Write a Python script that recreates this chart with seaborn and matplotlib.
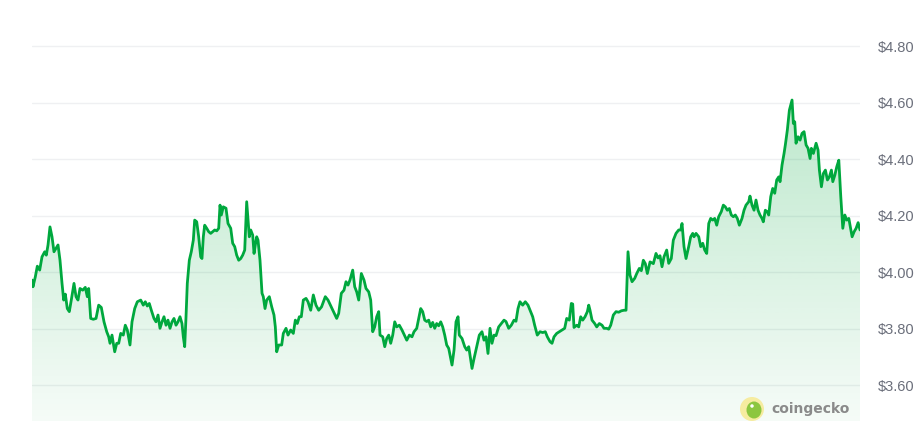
import numpy as np
import pandas as pd
import seaborn as sns
import matplotlib
matplotlib.use("Agg")
import matplotlib.pyplot as plt
from matplotlib.patches import Ellipse
from matplotlib.colors import to_rgb

# ---- data (hours since start, price in USD) ----
hours = [0.00, 0.20, 0.67, 1.08, 1.56, 2.03, 2.58, 2.90, 3.25, 3.65, 4.06, 4.46, 4.87, 5.28, 5.68,
         6.09, 6.43, 6.76, 7.16, 7.57, 7.97, 8.52, 8.93, 9.33, 9.74, 10.29, 10.81, 11.22, 11.50, 11.91,
         12.44, 12.99, 13.53, 14.06, 14.61, 15.16, 15.56, 15.83, 16.23, 16.78, 17.19, 17.59, 18.00, 18.52,
         18.93, 19.34, 19.88, 20.29, 20.84, 21.37, 22.06, 22.58, 22.99, 23.39, 23.80, 24.21, 24.75, 25.16,
         25.57, 25.97, 26.38, 26.78, 27.19, 27.59, 28.00, 28.41, 28.81, 29.22, 29.62, 30.03, 30.43, 30.70,
         30.98, 31.25, 31.51, 31.92, 32.32, 32.73, 33.01, 33.42, 33.82, 34.23, 34.49, 34.76, 35.04, 35.45,
         35.85, 36.26, 36.67, 37.07, 37.48, 37.88, 38.15, 38.41, 38.82, 39.36, 39.77, 40.32, 40.72, 41.13,
         41.53, 41.94, 42.35, 42.75, 43.16, 43.56, 44.09, 44.38, 44.78, 45.05, 45.31, 45.59, 45.86, 46.26,
         46.67, 46.93, 47.28, 47.62, 48.15, 48.64, 49.10, 49.37, 49.65, 50.06, 50.66, 50.99, 51.54, 51.94,
         52.49, 53.02, 53.43, 53.83, 54.24, 54.64, 55.05, 55.60, 56.00, 56.55, 57.08, 57.62, 58.17, 58.75,
         59.51, 60.06, 60.87, 61.82, 62.23, 62.76, 63.30, 63.71, 64.12, 64.52, 65.07, 65.48, 65.88, 66.29,
         66.82, 67.36, 67.77, 68.32, 68.72, 69.13, 69.53, 69.94, 70.35, 70.61, 71.16, 71.57, 71.97, 72.38,
         72.78, 73.19, 73.60, 74.00, 74.53, 75.07, 76.04, 76.57, 77.10, 77.51, 78.06, 78.87, 79.27, 79.68,
         80.09, 80.49, 80.90, 81.30, 81.71, 82.11, 82.52, 82.93, 83.33, 83.74, 84.14, 84.55, 84.96, 85.22,
         85.63, 86.03, 86.44, 86.70, 87.25, 87.80, 88.20, 88.61, 89.01, 89.28, 89.69, 90.23, 90.76, 91.30,
         91.71, 92.12, 92.52, 92.93, 93.33, 93.74, 94.15, 94.69, 95.22, 95.77, 96.17, 96.72, 97.25, 97.80,
         98.20, 98.61, 99.01, 99.56, 100.09, 100.64, 101.18, 101.59, 101.99, 102.52, 103.07, 103.62, 104.15,
         104.56, 105.10, 105.51, 105.92, 106.46, 106.99, 107.54, 108.08, 108.49, 109.02, 109.43, 109.71,
         109.97, 110.52, 110.93, 111.33, 111.74, 112.21, 112.68, 112.96, 113.22, 113.63, 114.17, 114.58,
         115.11, 115.66, 116.06, 116.61, 117.01, 117.42, 117.95, 118.50, 119.04, 119.58, 120.12, 120.53,
         120.93, 121.34, 121.75, 122.29, 122.70, 123.22, 123.63, 124.04, 124.44, 124.85, 125.40, 126.07,
         126.61, 127.02, 127.42, 127.83, 128.23, 128.78, 129.19, 129.71, 130.12, 130.67, 131.21, 131.62,
         131.89, 132.29, 132.70, 133.24, 133.65, 134.06, 134.32, 134.73, 135.28, 135.68, 136.09, 136.49,
         136.90, 137.31, 137.71, 138.12, 138.52, 138.93, 139.33, 139.86, 140.27, 140.67, 141.08, 141.49,
         141.89, 142.30, 142.70, 143.11, 143.52, 144.06, 144.47, 144.87, 145.42, 145.68, 146.09, 146.50,
         146.90, 147.31, 147.71, 148.12, 148.38, 148.79, 149.20, 149.48, 149.89, 150.29, 150.70, 151.10,
         151.51, 151.78, 152.18, 152.59, 152.85, 153.26, 153.67, 153.95, 154.21, 154.48, 154.76, 155.02,
         155.43, 155.84, 156.24, 156.65, 157.06, 157.46, 157.87, 158.13, 158.54, 159.09, 159.49, 159.76,
         160.17, 160.57, 160.98, 161.39, 161.79, 162.20, 162.48, 162.89, 163.29, 163.70, 164.10, 164.51,
         164.92, 165.32, 165.73, 166.14, 166.40, 166.81, 167.21, 167.62, 168.00]

prices = [3.972, 3.948, 3.983, 4.021, 4.007, 4.054, 4.072, 4.060, 4.096, 4.160, 4.125, 4.072, 4.084, 4.096, 4.042,
          3.960, 3.901, 3.922, 3.871, 3.860, 3.901, 3.960, 3.913, 3.901, 3.942, 3.936, 3.946, 3.913, 3.942, 3.836,
          3.833, 3.836, 3.883, 3.875, 3.824, 3.789, 3.771, 3.748, 3.777, 3.718, 3.748, 3.748, 3.783, 3.777,
          3.812, 3.795, 3.742, 3.824, 3.871, 3.895, 3.901, 3.883, 3.895, 3.880, 3.889, 3.865, 3.836, 3.824,
          3.848, 3.801, 3.824, 3.842, 3.812, 3.830, 3.801, 3.824, 3.836, 3.812, 3.824, 3.842, 3.818, 3.771,
          3.736, 3.842, 3.960, 4.042, 4.072, 4.113, 4.184, 4.178, 4.125, 4.054, 4.048, 4.125, 4.166, 4.155,
          4.143, 4.137, 4.143, 4.149, 4.146, 4.155, 4.237, 4.202, 4.231, 4.226, 4.172, 4.155, 4.102, 4.090,
          4.060, 4.042, 4.048, 4.060, 4.078, 4.249, 4.125, 4.149, 4.131, 4.066, 4.096, 4.125, 4.113, 4.042,
          3.925, 3.913, 3.871, 3.901, 3.913, 3.877, 3.848, 3.806, 3.718, 3.742, 3.742, 3.783, 3.801, 3.777,
          3.795, 3.783, 3.830, 3.818, 3.842, 3.842, 3.901, 3.907, 3.895, 3.865, 3.919, 3.883, 3.865, 3.877,
          3.913, 3.901, 3.871, 3.836, 3.854, 3.925, 3.936, 3.966, 3.954, 3.972, 4.007, 3.948, 3.930, 3.901,
          3.995, 3.972, 3.942, 3.930, 3.901, 3.789, 3.806, 3.842, 3.860, 3.777, 3.771, 3.736, 3.765, 3.777,
          3.748, 3.777, 3.824, 3.806, 3.812, 3.795, 3.759, 3.777, 3.771, 3.789, 3.801, 3.871, 3.860, 3.830,
          3.825, 3.830, 3.806, 3.822, 3.801, 3.818, 3.810, 3.824, 3.806, 3.777, 3.742, 3.730, 3.694, 3.671,
          3.724, 3.824, 3.842, 3.777, 3.765, 3.736, 3.724, 3.736, 3.689, 3.659, 3.694, 3.736, 3.777, 3.789,
          3.759, 3.771, 3.712, 3.801, 3.748, 3.777, 3.775, 3.806, 3.818, 3.830, 3.825, 3.801, 3.812, 3.830,
          3.826, 3.871, 3.895, 3.883, 3.895, 3.883, 3.860, 3.842, 3.812, 3.777, 3.789, 3.786, 3.789,
          3.771, 3.754, 3.748, 3.771, 3.783, 3.789, 3.795, 3.801, 3.836, 3.830, 3.889, 3.887,
          3.804, 3.812, 3.806, 3.842, 3.830, 3.842, 3.860, 3.883, 3.865, 3.830, 3.818, 3.806,
          3.818, 3.812, 3.801, 3.801, 3.798, 3.812, 3.848, 3.860, 3.858, 3.863, 3.865, 3.865,
          4.072, 3.989, 3.966, 3.978, 3.995, 4.013, 4.005, 4.042, 4.030, 3.995, 4.036, 4.030,
          4.066, 4.050, 4.058, 4.019, 4.054, 4.078, 4.031, 4.048, 4.113, 4.137, 4.149, 4.149,
          4.172, 4.090, 4.048, 4.090, 4.125, 4.137, 4.125, 4.137, 4.125, 4.090, 4.102, 4.078,
          4.066, 4.172, 4.190, 4.184, 4.190, 4.166, 4.196, 4.214, 4.237, 4.231, 4.219, 4.225,
          4.202, 4.196, 4.202, 4.190, 4.166, 4.190, 4.219, 4.237, 4.249, 4.269, 4.237, 4.219,
          4.255, 4.219, 4.202, 4.190, 4.178, 4.219, 4.213, 4.202, 4.267, 4.296, 4.279, 4.326,
          4.337, 4.320, 4.379, 4.420, 4.450, 4.503, 4.573, 4.591, 4.609, 4.526, 4.532, 4.456,
          4.479, 4.467, 4.491, 4.497, 4.450, 4.438, 4.402, 4.438, 4.420, 4.456, 4.432, 4.361,
          4.302, 4.349, 4.361, 4.326, 4.337, 4.361, 4.320, 4.343, 4.373, 4.396, 4.267, 4.155,
          4.202, 4.184, 4.190, 4.149, 4.125, 4.143, 4.155, 4.175, 4.149]

tick_values = [3.60, 3.80, 4.00, 4.20, 4.40, 4.60, 4.80]
tick_labels = ["$3.60", "$3.80", "$4.00", "$4.20", "$4.40", "$4.60", "$4.80"]

# ---- style ----
LINE = "#00a83e"
W, H = 924, 421
sns.set_theme(style="white")
plt.rcParams["font.family"] = ["Liberation Sans", "DejaVu Sans"]

fig = plt.figure(figsize=(W / 100, H / 100), dpi=100)
fig.patch.set_facecolor("white")
ax = fig.add_axes([32 / W, 0, 828 / W, 1])
ax.set_facecolor("white")

ymin, ymax = 3.473, 4.963
ax.set_xlim(min(hours), max(hours))
ax.set_ylim(ymin, ymax)

df = pd.DataFrame({"hour": hours, "price": prices})
sns.lineplot(data=df, x="hour", y="price", ax=ax, color=LINE, linewidth=2.0, zorder=3)

# gradient fill under the line
poly = ax.fill_between(df["hour"], df["price"], ymin, color="none", linewidth=0)
top = max(prices)
n = 256
r, g, b = to_rgb(LINE)
alphas = np.linspace(0.04, 0.26, n).reshape(-1, 1)
img = np.zeros((n, 1, 4))
img[..., 0] = r
img[..., 1] = g
img[..., 2] = b
img[..., 3] = alphas
im = ax.imshow(img, extent=[min(hours), max(hours), ymin, top], aspect="auto",
               origin="lower", zorder=2, interpolation="bilinear")
im.set_clip_path(poly.get_paths()[0], transform=ax.transData)

# axes styling
ax.set_yticks(tick_values)
ax.set_yticklabels(tick_labels)
ax.yaxis.tick_right()
ax.tick_params(axis="y", length=0, pad=12.5, labelsize=10.5, labelcolor="#6b6f7b")
ax.set_xticks([])
ax.set_xlabel("")
ax.set_ylabel("")
ax.grid(axis="y", color="#eff0f2", linewidth=1.0, zorder=0)
ax.grid(axis="x", visible=False)
for s in ax.spines.values():
    s.set_visible(False)

# watermark
cx, cy = 752 / W, 1 - 409 / H
fig.patches.append(Ellipse((cx, cy), 24 / W, 24 / H, transform=fig.transFigure,
                           facecolor="#f6eca0", edgecolor="none", zorder=5))
fig.patches.append(Ellipse((cx + 2 / W, cy - 1 / H), 15 / W, 17 / H, transform=fig.transFigure,
                           facecolor="#8cc63f", edgecolor="none", zorder=6))
fig.patches.append(Ellipse((cx + 0 / W, cy + 3 / H), 3.5 / W, 3.5 / H, transform=fig.transFigure,
                           facecolor="white", edgecolor="none", zorder=7))
fig.text(771 / W, cy, "coingecko", ha="left", va="center", fontsize=10, fontweight="bold",
         color="#8a8a8a", family=["DejaVu Sans"])

fig.savefig("out.png", dpi=100)
